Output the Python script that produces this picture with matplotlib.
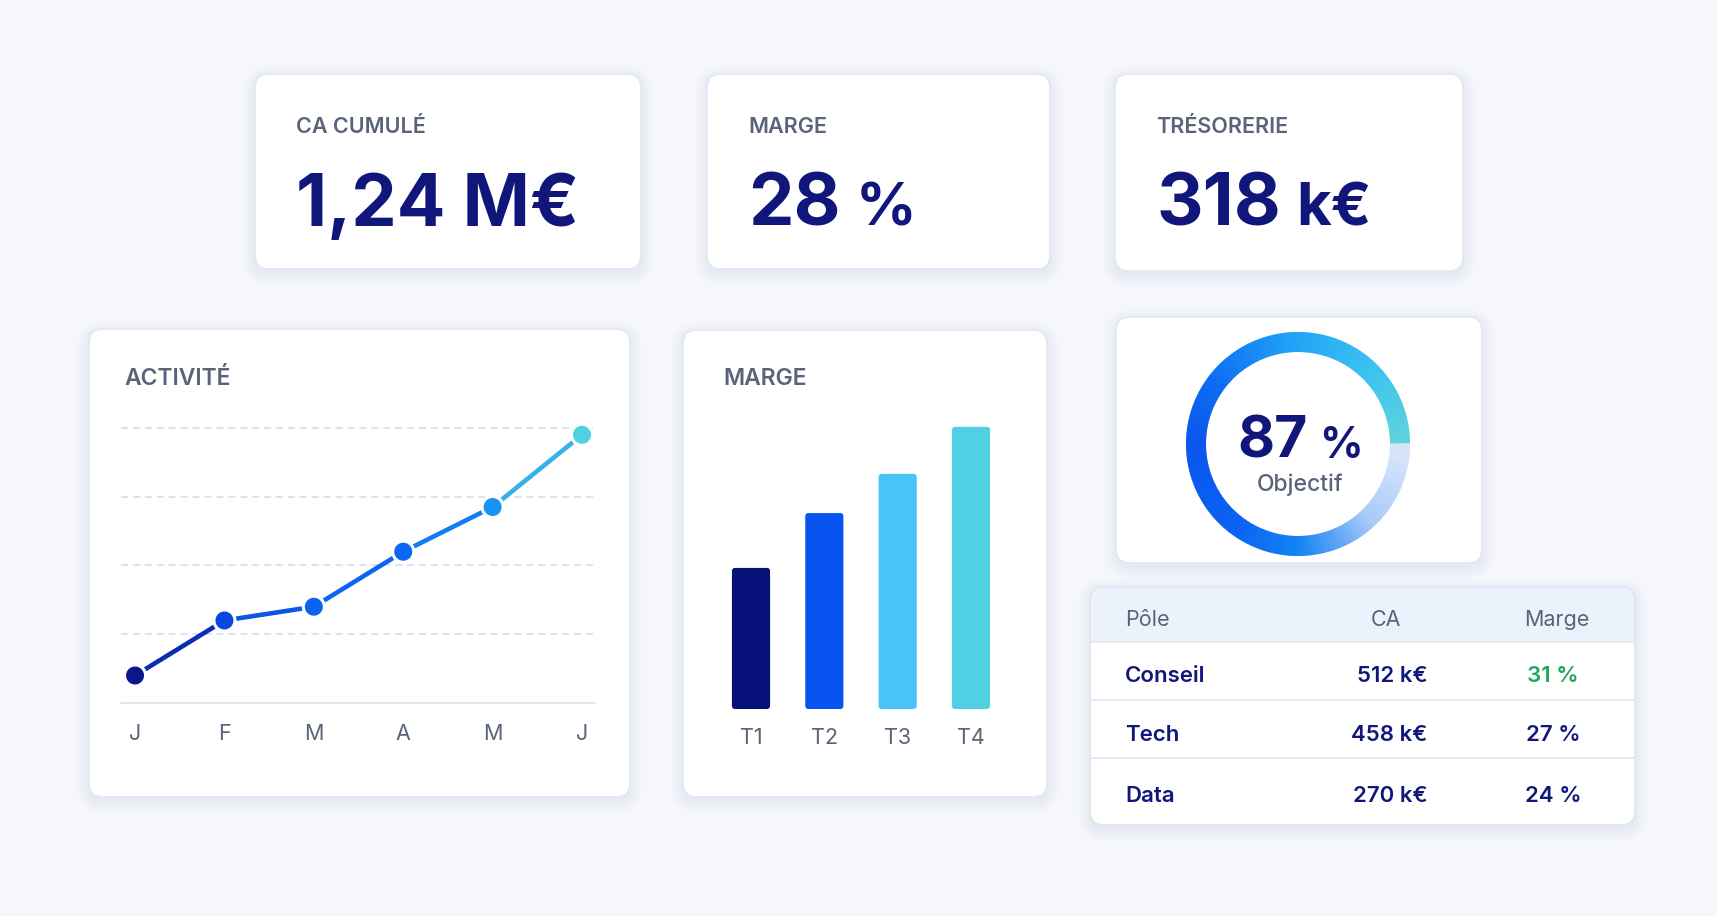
import numpy as np
import matplotlib
matplotlib.use("Agg")
import matplotlib.pyplot as plt
from matplotlib.patches import FancyBboxPatch, Wedge, Rectangle
from matplotlib.collections import LineCollection
from matplotlib.colors import LinearSegmentedColormap

plt.rcParams['font.family'] = ['Inter', 'DejaVu Sans']

W, H = 1717, 916

# KPI cards
kpi_labels = ['CA CUMULÉ', 'MARGE', 'TRÉSORERIE']
kpi_numbers = ['1,24', '28', '318']
kpi_units = ['M€', '%', 'k€']

# line chart
months = ['J', 'F', 'M', 'A', 'M', 'J']
activity = [8, 24, 28, 44, 57, 78]

# bar chart
quarters = ['T1', 'T2', 'T3', 'T4']
margin_q = [18, 25, 30, 36]

# donut
goal_pct = 87

# table
table_header = ['Pôle', 'CA', 'Marge']
poles = ['Conseil', 'Tech', 'Data']
pole_ca = [512, 458, 270]
pole_margin = [31, 27, 24]

BG = '#f5f7fb'
NAVY = '#10167a'
GRAY = '#5a6479'
BORDER = '#e1e7f0'

fig = plt.figure(figsize=(W / 100, H / 100), dpi=100, facecolor=BG)
bg = fig.add_axes([0, 0, 1, 1])
bg.set_xlim(0, W)
bg.set_ylim(H, 0)
bg.axis('off')
renderer = fig.canvas.get_renderer()


def card(x0, y0, x1, y1, r=14):
    # soft shadow
    for i in range(7):
        p = 1 + i * 1.8
        bg.add_patch(FancyBboxPatch((x0 - p, y0 - p + 4), x1 - x0 + 2 * p, y1 - y0 + 2 * p,
                                    boxstyle=f"round,pad=0,rounding_size={r + p}",
                                    fc='#2b4a8c', ec='none', alpha=0.009, zorder=1))
    box = FancyBboxPatch((x0, y0), x1 - x0, y1 - y0, boxstyle=f"round,pad=0,rounding_size={r}",
                         fc='white', ec=BORDER, lw=1.2, zorder=2)
    bg.add_patch(box)
    return box


def to_fig(x0, y0, x1, y1):
    return [x0 / W, 1 - y1 / H, (x1 - x0) / W, (y1 - y0) / H]


def text_width(t):
    return t.get_window_extent(renderer).width


# --- KPI cards ---
kpi_boxes = [(255, 74, 641, 269), (707, 74, 1050, 269), (1115, 74, 1463, 271)]
for (x0, y0, x1, y1), lab, num, unit in zip(kpi_boxes, kpi_labels, kpi_numbers, kpi_units):
    card(x0, y0, x1, y1)
    tx = x0 + 41
    bg.text(tx, 133, lab, fontsize=15.5, fontweight='semibold', color=GRAY, va='baseline', zorder=3)
    if unit == 'M€':
        bg.text(tx, 226, f"{num} {unit}", fontsize=52, fontweight='bold', color=NAVY,
                va='baseline', zorder=3)
    else:
        t = bg.text(tx, 226, num, fontsize=52, fontweight='bold', color=NAVY, va='baseline', zorder=3)
        bg.text(tx + text_width(t) + 15, 226, unit, fontsize=43, fontweight='bold', color=NAVY,
                va='baseline', zorder=3)

# --- Activité card (line chart) ---
card(89, 329, 630, 797)
bg.text(124, 385, 'ACTIVITÉ', fontsize=16.5, fontweight='semibold', color=GRAY, va='baseline', zorder=3)

ax1 = fig.add_axes(to_fig(121, 420, 595, 703))
ax1.patch.set_alpha(0)
x = np.arange(len(activity))
line_cmap = LinearSegmentedColormap.from_list(
    'act', ['#0a168a', '#0a47dc', '#0c63f2', '#0b66f2', '#1992f2', '#4fd2e0'])
pts = np.column_stack([x, activity])
segs = np.stack([pts[:-1], pts[1:]], axis=1)
seg_pos = (x[:-1] + 0.5) / (len(x) - 1)
ax1.add_collection(LineCollection(segs, colors=line_cmap(seg_pos), linewidths=3.3,
                                  capstyle='round', zorder=3))
ax1.scatter(x, activity, s=230, c=line_cmap(x / (len(x) - 1)), edgecolors='white',
            linewidths=2.2, zorder=4, clip_on=False)
ax1.set_xlim(-0.157, 5.145)
ax1.set_ylim(0, 82.3)
ax1.set_yticks([20, 40, 60, 80])
ax1.yaxis.grid(True, color='#d7e2ef', lw=1.3, ls=(0, (4, 2.6)))
ax1.set_axisbelow(True)
ax1.set_xticks(x)
ax1.set_xticklabels(months)
ax1.tick_params(axis='x', length=0, pad=15, labelsize=15.5, labelcolor=GRAY)
ax1.tick_params(axis='y', left=False, labelleft=False)
for s in ['top', 'right', 'left']:
    ax1.spines[s].set_visible(False)
ax1.spines['bottom'].set_color('#dde5ef')
ax1.spines['bottom'].set_linewidth(1.3)

# --- Marge card (bar chart) ---
card(683, 330, 1047, 797)
bg.text(723, 385, 'MARGE', fontsize=16.5, fontweight='semibold', color=GRAY, va='baseline', zorder=3)

ax2 = fig.add_axes(to_fig(707, 419, 1015, 709))
ax2.patch.set_alpha(0)
bar_colors = ['#070f78', '#0754f0', '#4ac4f8', '#4fd1e3']
xb = np.arange(len(quarters))
bars = ax2.bar(xb, margin_q, width=0.52, color=bar_colors)
ax2.set_xlim(-0.6, 3.6)
ax2.set_ylim(0, 37)
# rounded corners: 3 px in x units, aspect = (y units / px) / (x units / px)
px_x = 4.2 / 308
px_y = 37 / 290
for b, c in zip(bars, bar_colors):
    b.set_visible(False)
    ax2.add_patch(FancyBboxPatch((b.get_x(), b.get_y()), b.get_width(), b.get_height(),
                                 boxstyle=f"round,pad=0,rounding_size={3 * px_x}",
                                 mutation_aspect=px_y / px_x, fc=c, ec='none'))
ax2.set_xticks(xb)
ax2.set_xticklabels(quarters)
ax2.tick_params(axis='x', length=0, pad=14, labelsize=15.5, labelcolor=GRAY)
ax2.tick_params(axis='y', left=False, labelleft=False)
for s in ax2.spines.values():
    s.set_visible(False)

# --- Donut card ---
card(1116, 317, 1482, 563)
cx, cy, R, ring = 1298, 444, 112, 20
arc_cmap = LinearSegmentedColormap.from_list('arc', [
    (0.0, '#5fd3dc'), (0.12, '#3cc4ef'), (0.25, '#22a5f6'), (0.40, '#0d6cf2'),
    (0.50, '#0a55ee'), (0.65, '#0a62f2'), (0.75, '#1283f6'), (0.81, '#5aa2f7'),
    (0.87, '#a9c9f9'), (1.0, '#d5e3fb')])
n = 360
for i in range(n):
    a0 = 360 * i / n
    a1 = 360 * (i + 1) / n + 0.4
    frac = (i + 0.5) / n
    if frac * 100 <= goal_pct:
        col = arc_cmap(frac)
    else:
        col = arc_cmap(min(1.0, 0.87 + (frac - goal_pct / 100) * 1.2))
    # y axis is inverted, so visual angles map to negative data angles
    bg.add_patch(Wedge((cx, cy), R, -a1, -a0, width=ring, fc=col, ec='none', zorder=3))

t_num = bg.text(0, 458, '87', fontsize=41, fontweight='bold', color=NAVY, va='baseline', zorder=4)
t_pct = bg.text(0, 458, '%', fontsize=31, fontweight='bold', color=NAVY, va='baseline', zorder=4)
wn, wp, gap = text_width(t_num), text_width(t_pct), 11
start = cx + 2 - (wn + gap + wp) / 2
t_num.set_x(start)
t_pct.set_x(start + wn + gap)
bg.text(1300, 491, 'Objectif', fontsize=16.5, fontweight='medium', color=GRAY,
        ha='center', va='baseline', zorder=4)

# --- Table card ---
tbox = card(1090, 587, 1635, 825)
hdr = Rectangle((1090, 587), 545, 55, fc='#ecf2fc', ec='none', zorder=2.5)
bg.add_patch(hdr)
hdr.set_clip_path(tbox)
for yl in [642, 700, 758]:
    bg.plot([1090, 1635], [yl, yl], color='#e2e8f1', lw=1.3, zorder=2.6)
bg.add_patch(FancyBboxPatch((1090, 587), 545, 238, boxstyle="round,pad=0,rounding_size=14",
                            fc='none', ec=BORDER, lw=1.2, zorder=2.7))

hdr_x = [1125, 1386, 1557]
hdr_ha = ['left', 'center', 'center']
for h, xh, ha in zip(table_header, hdr_x, hdr_ha):
    bg.text(xh, 626, h, fontsize=15.5, color=GRAY, ha=ha, va='baseline', zorder=4)

row_y = [682, 741, 802]
best = int(np.argmax(pole_margin))
for i, (p, ca, mg) in enumerate(zip(poles, pole_ca, pole_margin)):
    bg.text(1125, row_y[i], p, fontsize=16, fontweight='semibold', color=NAVY,
            va='baseline', zorder=4)
    bg.text(1427, row_y[i], f"{ca} k€", fontsize=16, fontweight='semibold', color=NAVY,
            ha='right', va='baseline', zorder=4)
    bg.text(1553, row_y[i], f"{mg} %", fontsize=16, fontweight='semibold',
            color='#1ea75a' if i == best else NAVY, ha='center', va='baseline', zorder=4)

fig.savefig('out.png', dpi=100, facecolor=BG)
